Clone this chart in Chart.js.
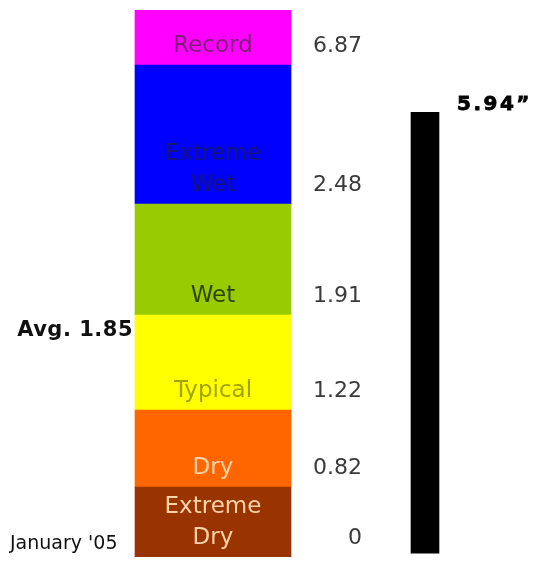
<!DOCTYPE html>
<html>
<head>
<meta charset="utf-8">
<script src="https://cdn.jsdelivr.net/npm/chart.js@4"></script>
<style>
  html, body { margin: 0; padding: 0; background: #fff; }
  #wrap { width: 536px; height: 562px; }
</style>
</head>
<body>
<div id="wrap"><canvas id="chart" width="536" height="562"></canvas></div>
<script>
// --- Datos ---
const categories = ['Extreme Dry', 'Dry', 'Typical', 'Wet', 'Extreme Wet', 'Record'];
const lowerBounds = [0, 0.82, 1.22, 1.91, 2.48, 6.87];
const bandColors = ['#993300', '#ff6600', '#ffff00', '#99cc00', '#0000ff', '#ff00ff'];
const labelColors = ['#ffd3a8', '#ffd3a8', '#a3a300', '#2f4400', '#14147a', '#7d1f7a'];
const januaryTotal = 5.94;
const average = 1.85;
const periodLabel = "January '05";

// top of the record band (not shown)
const scaleTop = 8;

/**
 * Escala por tramos: cada categoría ocupa su propia franja de alto fijo.
 */
class BandScale extends Chart.LinearScale {
  static id = 'band';

  toUnit(value) {
    const breaks = this.options.breaks;
    const weights = this.options.weights;
    const total = weights.reduce((a, b) => a + b, 0);
    let acc = 0;
    for (let i = 0; i < weights.length; i++) {
      const lo = breaks[i], hi = breaks[i + 1];
      if (value <= hi || i === weights.length - 1) {
        const f = Math.max(0, Math.min(1, (value - lo) / (hi - lo)));
        return (acc + weights[i] * f) / total;
      }
      acc += weights[i];
    }
    return 1;
  }

  getPixelForValue(value) {
    return this.getPixelForDecimal(this.toUnit(value));
  }

  getValueForPixel(pixel) {
    const d = this.getDecimalForPixel(pixel);
    const breaks = this.options.breaks;
    const weights = this.options.weights;
    const total = weights.reduce((a, b) => a + b, 0);
    let acc = 0;
    for (let i = 0; i < weights.length; i++) {
      const w = weights[i] / total;
      if (d <= acc + w) return breaks[i] + (breaks[i + 1] - breaks[i]) * (d - acc) / w;
      acc += w;
    }
    return breaks[breaks.length - 1];
  }
}
Chart.register(BandScale);

const bandDatasets = categories.map((name, i) => {
  const upper = i < lowerBounds.length - 1 ? lowerBounds[i + 1] : scaleTop;
  return {
    label: name,
    data: [upper - lowerBounds[i], null],
    backgroundColor: bandColors[i],
    yAxisID: 'y',
    barThickness: 156,
    grouped: false,
    borderWidth: 0,
  };
});

const totalDataset = {
  label: periodLabel,
  data: [null, januaryTotal],
  backgroundColor: '#000000',
  yAxisID: 'y2',
  barThickness: 28,
  grouped: false,
  borderWidth: 0,
};

// --- Textos dibujados sobre el gráfico ---
const textPlugin = {
  id: 'bandText',
  afterDatasetsDraw(chart) {
    const ctx = chart.ctx;
    const yScale = chart.scales.y;
    const y2Scale = chart.scales.y2;
    ctx.save();
    ctx.textBaseline = 'middle';

    categories.forEach((name, i) => {
      const bar = chart.getDatasetMeta(i).data[0];
      const bottom = yScale.getPixelForValue(lowerBounds[i]);
      const lineY = bottom - 19;
      const lines = name.split(' ');
      ctx.font = '23px "DejaVu Sans"';
      ctx.fillStyle = labelColors[i];
      ctx.textAlign = 'center';
      lines.forEach((line, j) => {
        ctx.fillText(line, bar.x, lineY - (lines.length - 1 - j) * 31);
      });

      ctx.font = '22px "DejaVu Sans"';
      ctx.fillStyle = '#3a3a3a';
      ctx.textAlign = 'right';
      ctx.fillText(String(lowerBounds[i]), 362, lineY);
    });

    // promedio
    ctx.font = 'bold 21px "DejaVu Sans"';
    ctx.letterSpacing = '0.5px';
    ctx.fillStyle = '#111';
    ctx.textAlign = 'right';
    ctx.fillText('Avg. ' + average.toFixed(2), 133, yScale.getPixelForValue(average) + 7);

    // total del mes
    const top = chart.getDatasetMeta(categories.length).data[1];
    ctx.font = 'bold 20px "DejaVu Sans"';
    ctx.letterSpacing = '2.5px';
    ctx.fillStyle = '#000';
    ctx.strokeStyle = '#000';
    ctx.lineWidth = 0.8;
    ctx.textAlign = 'left';
    const totalText = januaryTotal.toFixed(2) + '\u201d';
    ctx.fillText(totalText, 457, top.y - 8);
    ctx.strokeText(totalText, 457, top.y - 8);
    ctx.letterSpacing = '0px';

    ctx.font = '19px "DejaVu Sans"';
    ctx.fillStyle = '#111';
    ctx.fillText(periodLabel, 10, y2Scale.getPixelForValue(0) - 9);
    ctx.restore();
  }
};

new Chart(document.getElementById('chart'), {
  type: 'bar',
  data: {
    labels: ['Range', periodLabel],
    datasets: [...bandDatasets, totalDataset]
  },
  options: {
    responsive: false,
    animation: false,
    layout: { padding: { left: 107, right: 5, top: 10, bottom: 5 } },
    scales: {
      x: { display: false, offset: true },
      y: {
        type: 'band',
        display: false,
        stacked: true,
        min: 0,
        max: scaleTop,
        breaks: [...lowerBounds, scaleTop],
        weights: [70, 77, 95, 111, 139, 55],
      },
      y2: { type: 'linear', display: false, min: -0.05, max: 7.32 }
    },
    plugins: {
      legend: { display: false },
      tooltip: { enabled: false }
    }
  },
  plugins: [textPlugin]
});
</script>
</body>
</html>
